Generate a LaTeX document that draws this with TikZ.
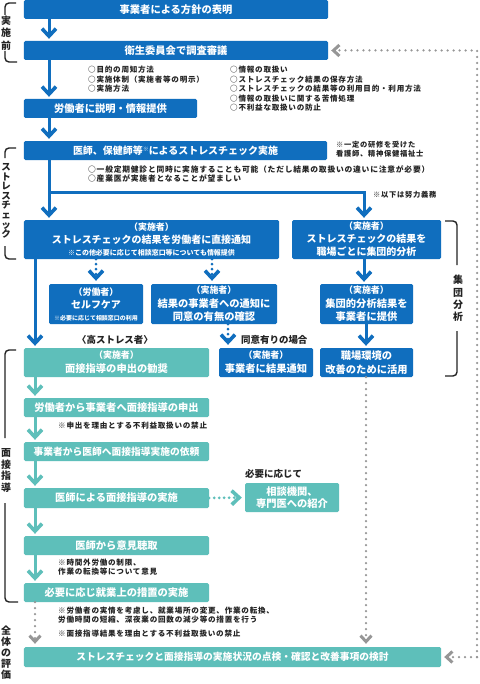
\documentclass[tikz,border=0pt]{standalone}
\usepackage{fontspec}
\setmainfont{Noto Sans CJK JP}
\newfontfamily\notefont[LetterSpace=10]{Noto Sans CJK JP}
\usetikzlibrary{arrows.meta}
\definecolor{blu}{RGB}{16,110,190}
\definecolor{tea}{RGB}{94,191,186}
\definecolor{gry}{RGB}{150,150,150}
\definecolor{ink}{RGB}{35,35,35}
\tikzset{
  Chv/.tip={Straight Barb[length=7.5bp, width=14bp, line width=3.6bp 0]},
  GChv/.tip={Straight Barb[length=6bp, width=11bp, line width=3bp 0]},
  bx/.style={rectangle, rounded corners=1.5bp, inner sep=0, text=white, align=center,
    font=\bfseries\fontsize{10.3}{13.5}\selectfont},
  bb/.style={bx, fill=blu},
  tb/.style={bx, fill=tea},
  note/.style={inner sep=0, anchor=north west, align=left, text=ink,
    font=\notefont\bfseries\fontsize{7.6}{9.5}\selectfont},
  lbl/.style={inner sep=0, text=ink, font=\bfseries\fontsize{9.5}{11}\selectfont},
  vlbl/.style={inner sep=0, text=ink, align=center, font=\bfseries\fontsize{10}{12}\selectfont},
  brk/.style={draw=ink, line width=1.4bp, rounded corners=4bp},
  barrow/.style={draw=blu, line width=3bp, -Chv, shorten >=2bp},
  tarrow/.style={draw=tea, line width=3bp, -Chv, shorten >=2bp},
  bdot/.style={draw=blu, line width=3bp, dash pattern=on 0bp off 5bp, line cap=round, -Chv, shorten >=3bp},
  tdot/.style={draw=tea, line width=3bp, dash pattern=on 0bp off 5bp, line cap=round, -Chv, shorten >=3bp},
  gdot/.style={draw=gry, line width=2.5bp, dash pattern=on 0bp off 6bp, line cap=round, -GChv, shorten >=3bp},
}
\newcommand{\smlA}{\fontsize{9}{10}\selectfont}
\begin{document}
\begin{tikzpicture}[x=1bp, y=-1bp]
\useasboundingbox (0,0) rectangle (480,684);
\fill[white] (0,0) rectangle (480,684);

% boxes
\node[bb, minimum width=304bp, minimum height=19bp] (b1) at (176,9.5) {事業者による方針の表明};
\node[bb, minimum width=304bp, minimum height=19bp] (b2) at (176,50.5) {衛生委員会で調査審議};
\node[bb, minimum width=173bp, minimum height=19bp] (b3) at (110.5,108.5) {労働者に説明・情報提供};
\node[bb, minimum width=303bp, minimum height=19bp, font=\bfseries\fontsize{10}{12}\selectfont] (b4) at (175.5,150.5)
  {医師、保健師等\raisebox{3bp}{\fontsize{6}{6}\selectfont ※}によるストレスチェック実施};
\node[bb, minimum width=255bp, minimum height=39bp, font=\bfseries\fontsize{10}{13}\selectfont] (b5) at (151.5,239.5)
  {{\smlA（実施者）}\\ストレスチェックの結果を労働者に直接通知\\[-1.5bp]{\fontsize{7}{8}\selectfont ※この他必要に応じて相談窓口等についても情報提供}};
\node[bb, minimum width=149bp, minimum height=39bp, font=\bfseries\fontsize{10}{13}\selectfont] (b6) at (366.5,239.5)
  {{\smlA（実施者）}\\ストレスチェックの結果を\\職場ごとに集団的分析};
\node[bb, minimum width=94bp, minimum height=40bp, font=\bfseries\fontsize{10}{13.5}\selectfont] (b7) at (96,304)
  {{\smlA（労働者）}\\セルフケア\\[-2bp]{\fontsize{6}{7}\selectfont ※必要に応じて相談窓口の利用}};
\node[bb, minimum width=126bp, minimum height=40bp] (b8) at (214,304)
  {{\smlA（実施者）}\\結果の事業者への通知に\\同意の有無の確認};
\node[bb, minimum width=93bp, minimum height=40bp] (b9) at (366.5,304)
  {{\smlA（実施者）}\\集団的分析結果を\\事業者に提供};
\node[tb, minimum width=185bp, minimum height=29bp, font=\bfseries\fontsize{10.3}{14}\selectfont] (b10) at (116.5,362.5)
  {{\smlA（実施者）}\\面接指導の申出の勧奨};
\node[bb, minimum width=94bp, minimum height=29bp, font=\bfseries\fontsize{10.3}{14}\selectfont] (b11) at (266,362.5)
  {{\smlA（実施者）}\\事業者に結果通知};
\node[bb, minimum width=93bp, minimum height=29bp, font=\bfseries\fontsize{10.3}{14}\selectfont] (b12) at (366.5,362.5)
  {職場環境の\\改善のために活用};
\node[tb, minimum width=185bp, minimum height=19bp] (b13) at (116.5,407.5) {労働者から事業者へ面接指導の申出};
\node[tb, minimum width=185bp, minimum height=19bp, font=\bfseries\fontsize{9.8}{12}\selectfont] (b14) at (116.5,451.5) {事業者から医師へ面接指導実施の依頼};
\node[tb, minimum width=185bp, minimum height=20bp] (b15) at (116.5,498) {医師による面接指導の実施};
\node[tb, minimum width=94bp, minimum height=29bp, font=\bfseries\fontsize{10.3}{12}\selectfont] (b16) at (292,497.5) {相談機関、\\専門医への紹介};
\node[tb, minimum width=185bp, minimum height=19bp] (b17) at (116.5,545.5) {医師から意見聴取};
\node[tb, minimum width=185bp, minimum height=19bp] (b18) at (116.5,592.5) {必要に応じ就業上の措置の実施};
\node[tb, minimum width=417bp, minimum height=20bp, font=\bfseries\fontsize{9.8}{12}\selectfont] (b19) at (232.5,657)
  {ストレスチェックと面接指導の実施状況の点検・確認と改善事項の検討};

% notes
\node[note] (n1) at (88,66) {○目的の周知方法\\○実施体制（実施者等の明示）\\○実施方法};
\node[note] (n2) at (230,66) {○情報の取扱い\\○ストレスチェック結果の保存方法\\○ストレスチェックの結果等の利用目的・利用方法\\○情報の取扱いに関する苦情処理\\○不利益な取扱いの防止};
\node[note, font=\notefont\bfseries\fontsize{7.3}{9}\selectfont] (n3) at (336,141.5) {※一定の研修を受けた\\看護師、精神保健福祉士};
\node[note, font=\notefont\bfseries\fontsize{7.8}{10}\selectfont] (n4) at (88,165) {○一般定期健診と同時に実施することも可能（ただし結果の取扱いの違いに注意が必要）\\○産業医が実施者となることが望ましい};
\node[note, font=\notefont\bfseries\fontsize{7.3}{9}\selectfont] (n5) at (373,191.5) {※以下は努力義務};
\node[lbl] (n6) at (115,340) {〈高ストレス者〉};
\node[lbl, anchor=west] (n7) at (241,340) {同意有りの場合};
\node[note] (n8) at (58,421.5) {※申出を理由とする不利益取扱いの禁止};
\node[lbl, anchor=west] (n9) at (245,474) {必要に応じて};
\node[note] (n10) at (58,558.5) {※時間外労働の制限、\\作業の転換等について意見};
\node[note] (n11) at (58,606.5) {※労働者の実情を考慮し、就業場所の変更、作業の転換、\\労働時間の短縮、深夜業の回数の減少等の措置を行う};
\node[note] (n12) at (58,629.5) {※面接指導結果を理由とする不利益取扱いの禁止};

% side labels and brackets
\node[vlbl, font=\bfseries\fontsize{10}{12.5}\selectfont] (s1) at (6,33) {実\\施\\前};
\node[vlbl, font=\bfseries\fontsize{9.5}{9.6}\selectfont] (s2) at (6,201) {ス\\ト\\レ\\ス\\チ\\ェ\\ッ\\ク};
\node[vlbl, font=\bfseries\fontsize{10}{11.7}\selectfont] (s3) at (6,470.5) {面\\接\\指\\導};
\node[vlbl, font=\bfseries\fontsize{10}{11.2}\selectfont] (s4) at (6,652.5) {全\\体\\の\\評\\価};
\node[vlbl, font=\bfseries\fontsize{10}{12.3}\selectfont] (s5) at (458,298.5) {集\\団\\分\\析};

\draw[brk] (16,3) -- (5,3) -- (5,15);
\draw[brk] (5,51) -- (5,62) -- (17,62);
\draw[brk] (16,148) -- (5,148) -- (5,158);
\draw[brk] (5,246) -- (5,259) -- (16,259);
\draw[brk] (16,350) -- (5,350) -- (5,438);
\draw[brk] (5,503) -- (5,602) -- (18,602);
\draw[brk] (445,221) -- (457,221) -- (457,265);
\draw[brk] (457,331) -- (457,376) -- (445,376);

% connectors
\draw[barrow] (b1.south -| 49,0) -- (b2.north -| 49,0);
\draw[barrow] (b2.south -| 49,0) -- (b3.north -| 49,0);
\draw[barrow] (b3.south -| 49,0) -- (b4.north -| 49,0);
\draw[barrow] (b4.south -| 49,0) -- (b5.north -| 49,0);
\coordinate (jn) at (49,192);
\draw[barrow] (jn) -- (jn -| 364,0) -- (b6.north -| 364,0);
\draw[bdot] (b5.south -| 96,0) -- (b7.north -| 96,0);
\draw[bdot] (b5.south -| 212,0) -- (b8.north -| 212,0);
\draw[barrow] (b6.south -| 364,0) -- (b9.north -| 364,0);
\draw[barrow] (b5.south -| 35,0) -- (b10.north -| 35,0);
\draw[bdot] (b8.south -| 228,0) -- (b11.north -| 228,0);
\draw[barrow] (b9.south -| 366,0) -- (b12.north -| 366,0);
\draw[tarrow] (b10.south -| 35,0) -- (b13.north -| 35,0);
\draw[tarrow] (b13.south -| 35,0) -- (b14.north -| 35,0);
\draw[tarrow] (b14.south -| 35,0) -- (b15.north -| 35,0);
\draw[tdot] (b15.east) -- (b16.west);
\draw[tarrow] (b15.south -| 35,0) -- (b17.north -| 35,0);
\draw[tarrow] (b17.south -| 35,0) -- (b18.north -| 35,0);
\draw[gdot] (b18.south -| 35,0) -- (b19.north -| 35,0);
\draw[gdot] (b12.south -| 366,0) -- (b19.north -| 366,0);
\coordinate (rt) at (b2.east -| 477,0);
\coordinate (rb) at (b19.east -| 477,0);
\draw[gdot] (rb) -- (rt) -- (b2.east);
\draw[gdot] (rb) -- (b19.east);
\end{tikzpicture}
\end{document}
